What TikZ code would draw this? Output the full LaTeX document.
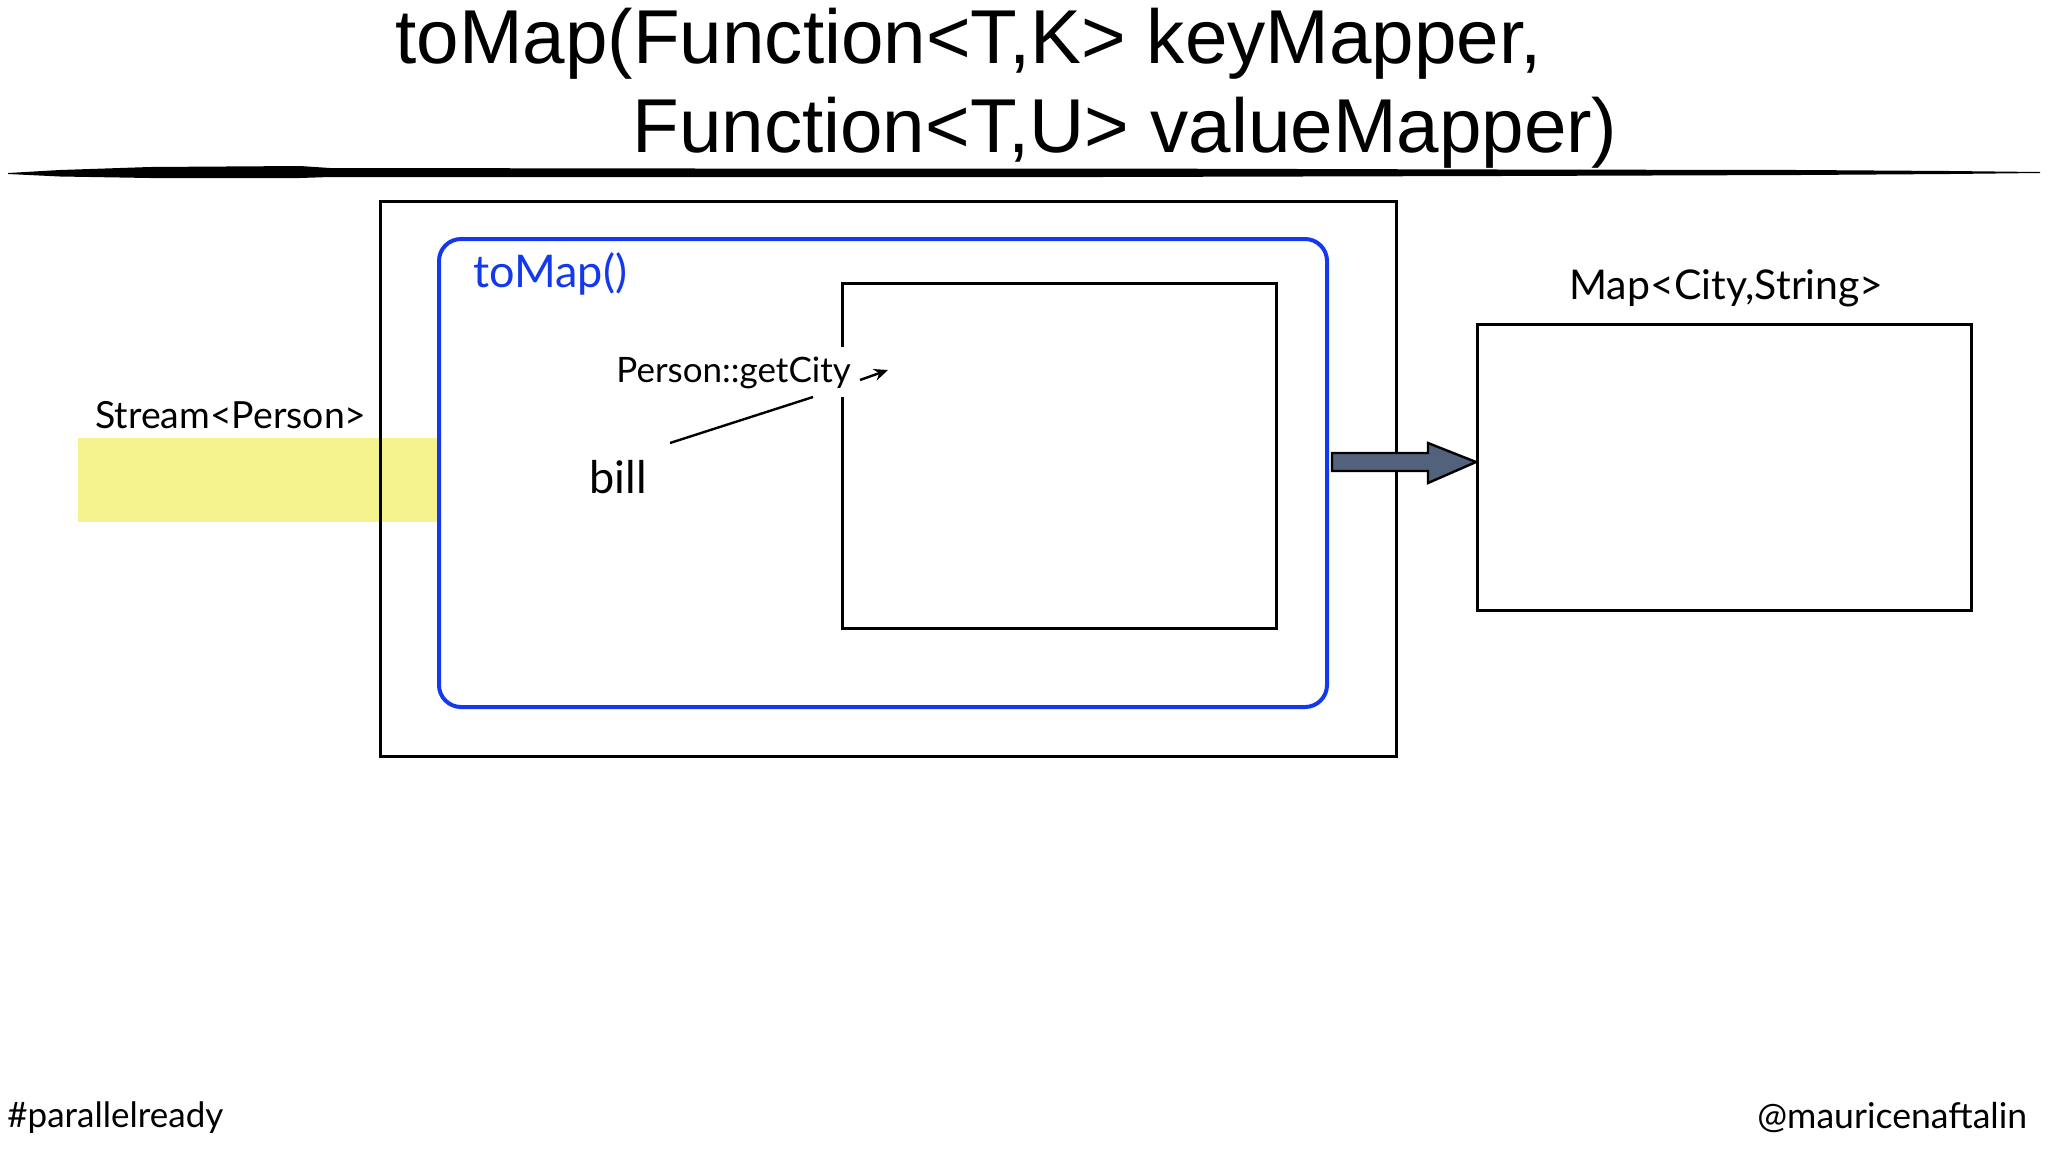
\documentclass[tikz,border=0pt]{standalone}
\usepackage{fontspec}
\setmainfont{Lato}
\newfontfamily\titlefont{Liberation Sans}
\usetikzlibrary{arrows.meta}
\definecolor{tmblue}{RGB}{20,56,236}
\definecolor{streamyellow}{RGB}{243,242,140}
\definecolor{slatefill}{RGB}{82,98,124}
\newcommand\setfsz[1]{\fontsize{#1}{#1}\selectfont}
\begin{document}
\begin{tikzpicture}[x=0.5pt,y=-0.5pt,
  lbl/.style={anchor=base west, inner sep=0pt},
  titletext/.style={lbl, font=\titlefont\setfsz{38.2pt}},
  boxline/.style={draw=black, line width=1.5pt},
  bodytext/.style={lbl, font=\setfsz{18.7pt}}]
\useasboundingbox[fill=white] (0,0) rectangle (2048,1152);

% title
\node[titletext] (t1) at (395,63) {toMap(Function<T,K> keyMapper,};
\node[titletext] (t2) at (632,152) {Function<T,U> valueMapper)};

% brush rule
\fill[black] (8,173) -- (60,170) -- (150,167) -- (300,166) -- (330,168) -- (700,168.5)
  -- (1100,168.5) -- (1500,169.5) -- (1800,170) -- (1950,171) -- (2040,172)
  -- (2040,173) -- (1950,174) -- (1800,175) -- (1500,176) -- (1100,177) -- (700,177)
  -- (330,177) -- (300,178) -- (150,178) -- (60,176.5) -- (8,174) -- cycle;

% stream
\fill[streamyellow] (78,438) rectangle (438,522);
\node[bodytext] (stream) at (95,428) {Stream<Person>};

% outer box
\draw[boxline] (380,201) rectangle (1396,756);
% blue collector box
\draw[draw=tmblue, line width=2pt, rounded corners=11pt] (439,239) rectangle (1327,707);
\node[lbl, font=\setfsz{22.5pt}, text=tmblue] (tomap) at (473,287) {toMap()};

% inner box
\draw[boxline] (842,283) rectangle (1276,628);

% labels inside
\node[lbl, font=\setfsz{17.5pt}, fill=white, inner ysep=4.5pt] (getcity) at (616,382) {Person::getCity};
\node[lbl, font=\setfsz{22.5pt}] (bill) at (589,493) {bill};
\coordinate (billend) at (670,443);
\coordinate (cityend) at (813,397);
\draw[line width=1.2pt] (billend) -- (cityend);
\coordinate (arrstart) at (860,380);
\coordinate (arrend) at (888,370);
\draw[line width=1.2pt, -{Stealth[length=7pt,width=6pt]}] (arrstart) -- (arrend);

% map box
\node[lbl, font=\setfsz{20.5pt}] (maplbl) at (1569,299) {Map<City,String>};
\draw[boxline] (1477,324) rectangle (1971,610);

% big arrow
\draw[fill=slatefill, draw=black, line width=1.2pt, line join=miter]
  (1332,453) -- (1428,453) -- (1428,443) -- (1476,462) -- (1428,483) -- (1428,471) -- (1332,471) -- cycle;

% footer
\node[lbl, font=\setfsz{17.5pt}] (tag) at (7,1127) {\#parallelready};
\node[lbl, font=\setfsz{17.8pt}] (handle) at (1757,1128) {@mauricenaftalin};
\end{tikzpicture}
\end{document}
